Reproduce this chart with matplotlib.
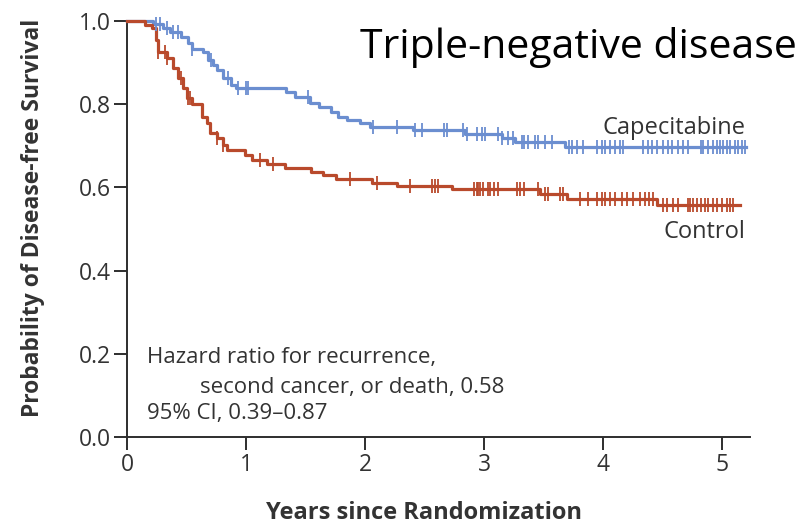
import numpy as np
import matplotlib
matplotlib.use("Agg")
import matplotlib.pyplot as plt

# ---- data ----
cap_t = [0, 0.22, 0.30, 0.36, 0.45, 0.51, 0.55, 0.64, 0.68, 0.72, 0.76, 0.81, 0.87, 0.92,
         1.34, 1.41, 1.54, 1.61, 1.71, 1.77, 1.85, 1.96, 2.04, 2.40, 2.84, 3.15, 3.26, 3.68, 5.20]
cap_s = [1.0, 0.993, 0.983, 0.974, 0.962, 0.947, 0.933, 0.925, 0.906, 0.894, 0.882, 0.863, 0.846, 0.839,
         0.829, 0.817, 0.803, 0.793, 0.781, 0.769, 0.762, 0.755, 0.745, 0.738, 0.728, 0.719, 0.709, 0.697, 0.697]
cap_cens = [0.24, 0.28, 0.34, 0.39, 0.43, 0.55, 0.71, 0.85, 0.93, 1.00, 1.02, 1.52, 2.07, 2.27, 2.42, 2.48,
            2.66, 2.69, 2.82, 2.86, 2.94, 2.98, 3.01, 3.12, 3.15, 3.20, 3.24, 3.32, 3.34, 3.37, 3.43, 3.45,
            3.51, 3.57, 3.71, 3.74, 3.78, 3.83, 3.95, 3.99, 4.02, 4.06, 4.10, 4.14, 4.17, 4.34, 4.38, 4.41,
            4.45, 4.50, 4.55, 4.58, 4.63, 4.67, 4.71, 4.82, 4.84, 4.88, 4.92, 4.96, 4.98, 5.01, 5.04, 5.07,
            5.11, 5.13, 5.17, 5.19]

ctl_t = [0, 0.15, 0.21, 0.24, 0.26, 0.34, 0.39, 0.43, 0.47, 0.50, 0.55, 0.63, 0.67, 0.70, 0.76,
         0.81, 0.84, 0.99, 1.05, 1.18, 1.33, 1.55, 1.65, 1.76, 2.06, 2.27, 2.73, 3.47, 3.70, 4.45, 5.15]
ctl_s = [1.0, 0.99, 0.983, 0.955, 0.925, 0.911, 0.887, 0.863, 0.839, 0.815, 0.800, 0.769, 0.755, 0.731, 0.719,
         0.702, 0.690, 0.678, 0.666, 0.656, 0.647, 0.637, 0.630, 0.620, 0.611, 0.603, 0.596, 0.584, 0.572, 0.557, 0.557]
ctl_cens = [0.26, 0.32, 0.34, 0.45, 0.51, 0.53, 0.76, 0.81, 1.12, 1.23, 1.87, 2.10, 2.38, 2.56, 2.59, 2.61,
            2.92, 2.94, 2.95, 2.97, 2.99, 3.03, 3.05, 3.08, 3.12, 3.28, 3.30, 3.34, 3.45, 3.51, 3.54, 3.64,
            3.66, 3.81, 3.87, 3.95, 3.99, 4.02, 4.06, 4.10, 4.16, 4.20, 4.25, 4.31, 4.35, 4.39, 4.42, 4.50,
            4.54, 4.59, 4.63, 4.71, 4.73, 4.76, 4.79, 4.82, 4.86, 4.88, 4.92, 4.96, 5.00, 5.04, 5.07, 5.09]

x_ticks = [0, 1, 2, 3, 4, 5]
y_ticks = [0.0, 0.2, 0.4, 0.6, 0.8, 1.0]
y_ticklabels = ["0.0", "0.2", "0.4", "0.6", "0.8", "1.0"]

BLUE = "#6B8ED0"
RED = "#B94A2C"
TXT = "#333333"


def step_value(t, times, surv):
    idx = np.searchsorted(np.asarray(times), np.asarray(t), side="right") - 1
    return np.asarray(surv)[idx]


plt.rcParams["font.family"] = ["Open Sans", "DejaVu Sans"]

W, H = 809, 529
fig = plt.figure(figsize=(W / 100, H / 100), dpi=100)
ax = fig.add_axes([127 / W, 1 - 437 / H, (750 - 127) / W, (437 - 21) / H])

for t, s, c, col in [(cap_t, cap_s, cap_cens, BLUE), (ctl_t, ctl_s, ctl_cens, RED)]:
    ax.step(t, s, where="post", color=col, lw=2.3, clip_on=False, zorder=3)
    ax.plot(c, step_value(c, t, s), ls="none", marker="|", ms=10, mew=1.3,
            color=col, clip_on=False, zorder=4)

ax.set_xlim(0, 5.235)
ax.set_ylim(0, 1.0)
ax.set_xticks(x_ticks)
ax.set_xticklabels([str(v) for v in x_ticks])
ax.set_yticks(y_ticks)
ax.set_yticklabels(y_ticklabels)

for sp in ["top", "right"]:
    ax.spines[sp].set_visible(False)
for sp in ["left", "bottom"]:
    ax.spines[sp].set_color("#2e2e2e")
    ax.spines[sp].set_linewidth(1.4)

ax.tick_params(axis="both", direction="out", length=9.5, width=1.4, color="#2e2e2e",
               labelsize=16.5, labelcolor=TXT)
ax.tick_params(axis="x", pad=2)
ax.tick_params(axis="y", pad=2)

ax.set_ylabel("Probability of Disease-free Survival", fontsize=16.5, fontweight="bold",
              color=TXT)
ax.yaxis.set_label_coords((33 - 127) / (750 - 127), (437 - 218) / (437 - 21))
ax.set_xlabel("Years since Randomization", fontsize=17, fontweight="bold", color=TXT)
ax.xaxis.set_label_coords((424 - 127) / (750 - 127), -(513 - 437) / (437 - 21))
ax.xaxis.label.set_va("center")
ax.yaxis.label.set_va("center")

ax.text(5.2, 0.742, "Capecitabine", ha="right", va="center", fontsize=17, color=TXT)
ax.text(5.2, 0.492, "Control", ha="right", va="center", fontsize=17, color=TXT)

ax.text(0.17, (437 - 358) / 416, "Hazard ratio for recurrence,", ha="left", va="center",
        fontsize=16, color=TXT)
ax.text(0.61, (437 - 387) / 416, "second cancer, or death, 0.58", ha="left", va="center",
        fontsize=16, color=TXT)
ax.text(0.17, (437 - 414) / 416, "95% CI, 0.39\u20130.87", ha="left", va="center",
        fontsize=16, color=TXT)

fig.text(360 / W, 1 - 58 / H, "Triple-negative disease", ha="left", va="baseline",
         fontsize=29.5, color="black")

fig.savefig("out.png", dpi=100)
